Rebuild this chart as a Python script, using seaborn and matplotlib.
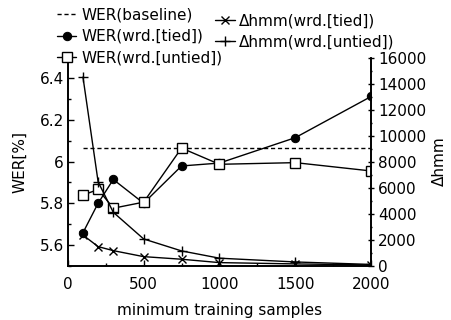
import numpy as np
import pandas as pd
import matplotlib
matplotlib.use("Agg")
import matplotlib.pyplot as plt
import matplotlib.ticker as mticker
import seaborn as sns

# data
samples = [100, 200, 300, 500, 750, 1000, 1500, 2000]
wer_baseline = 6.067
wer_tied = [5.658, 5.80, 5.914, 5.80, 5.979, 5.993, 6.115, 6.313]
wer_untied = [5.839, 5.866, 5.776, 5.805, 6.065, 5.987, 5.995, 5.955]
dhmm_tied = [2350, 1460, 1150, 690, 490, 230, 130, 50]
dhmm_untied = [14500, 6440, 4100, 2050, 1130, 570, 280, 90]

df = pd.DataFrame({
    "samples": samples,
    "wer_tied": wer_tied,
    "wer_untied": wer_untied,
    "dhmm_tied": dhmm_tied,
    "dhmm_untied": dhmm_untied,
})

sns.set_style("ticks")
plt.rcParams["font.family"] = ["DejaVu Sans"]
plt.rcParams["text.color"] = "black"
plt.rcParams["axes.labelcolor"] = "black"
plt.rcParams["xtick.color"] = "black"
plt.rcParams["ytick.color"] = "black"
fs = 11

fig = plt.figure(figsize=(4.52, 3.2), dpi=100)
ax = fig.add_axes([0.150, 0.170, 0.671, 0.650])
ax2 = ax.twinx()

lw = 1.0
# WER series (left axis)
l_base, = ax.plot([samples[0], samples[-1]], [wer_baseline, wer_baseline],
                  color="black", linestyle=(0, (3, 2)), linewidth=lw)
sns.lineplot(data=df, x="samples", y="wer_tied", ax=ax, color="black", linewidth=lw,
             marker="o", markersize=6, markeredgecolor="black", markerfacecolor="black")
sns.lineplot(data=df, x="samples", y="wer_untied", ax=ax, color="black", linewidth=lw,
             marker="s", markersize=6.5, markeredgecolor="black", markerfacecolor="white",
             markeredgewidth=1.0)
# delta hmm series (right axis)
sns.lineplot(data=df, x="samples", y="dhmm_tied", ax=ax2, color="black", linewidth=lw,
             marker="x", markersize=5.5, markeredgewidth=1.0, markeredgecolor="black")
sns.lineplot(data=df, x="samples", y="dhmm_untied", ax=ax2, color="black", linewidth=lw,
             marker="+", markersize=7, markeredgewidth=1.0, markeredgecolor="black")

ax.set_xlim(0, 2000)
ax.set_ylim(5.5, 6.5)
ax2.set_ylim(0, 16000)

ax.xaxis.set_major_locator(mticker.MultipleLocator(500))
ax.xaxis.set_minor_locator(mticker.MultipleLocator(250))
ax.yaxis.set_major_locator(mticker.FixedLocator([5.6, 5.8, 6.0, 6.2, 6.4]))
ax.yaxis.set_minor_locator(mticker.MultipleLocator(0.1))
ax.yaxis.set_major_formatter(mticker.FuncFormatter(lambda v, _: f"{v:g}"))
ax2.yaxis.set_major_locator(mticker.MultipleLocator(2000))
ax2.yaxis.set_minor_locator(mticker.MultipleLocator(1000))

for a in (ax, ax2):
    a.tick_params(which="both", direction="in", width=1.0, colors="black", labelsize=fs, pad=3)
    a.tick_params(which="major", length=4)
    a.tick_params(which="minor", length=2)
    a.spines["top"].set_visible(False)
    for s in ("left", "right", "bottom"):
        a.spines[s].set_linewidth(1.2)
        a.spines[s].set_color("black")
ax2.tick_params(axis="y", which="both", direction="inout")
ax.tick_params(axis="x", which="major", pad=8)

ax.set_xlabel("minimum training samples", fontsize=fs, labelpad=8, color="black")
ax.set_ylabel("WER[%]", fontsize=fs, labelpad=9, color="black")
ax2.set_ylabel("\u0394hmm", fontsize=fs, labelpad=4, color="black")

# legends above the plot
h_wt = ax.lines[1]
h_wu = ax.lines[2]
h_dt = ax2.lines[0]
h_du = ax2.lines[1]
leg1 = fig.legend([l_base, h_wt, h_wu],
                  ["WER(baseline)", "WER(wrd.[tied])", "WER(wrd.[untied])"],
                  loc="upper left", bbox_to_anchor=(0.105, 1.005), frameon=False,
                  handlelength=1.3, handletextpad=0.3, labelspacing=0.42,
                  borderpad=0.1, fontsize=fs, labelcolor="black")
leg2 = fig.legend([h_dt, h_du],
                  ["\u0394hmm(wrd.[tied])", "\u0394hmm(wrd.[untied])"],
                  loc="upper left", bbox_to_anchor=(0.455, 0.987), frameon=False,
                  handlelength=1.3, handletextpad=0.3, labelspacing=0.42,
                  borderpad=0.1, fontsize=fs, labelcolor="black")

fig.savefig("out.png", dpi=100)
